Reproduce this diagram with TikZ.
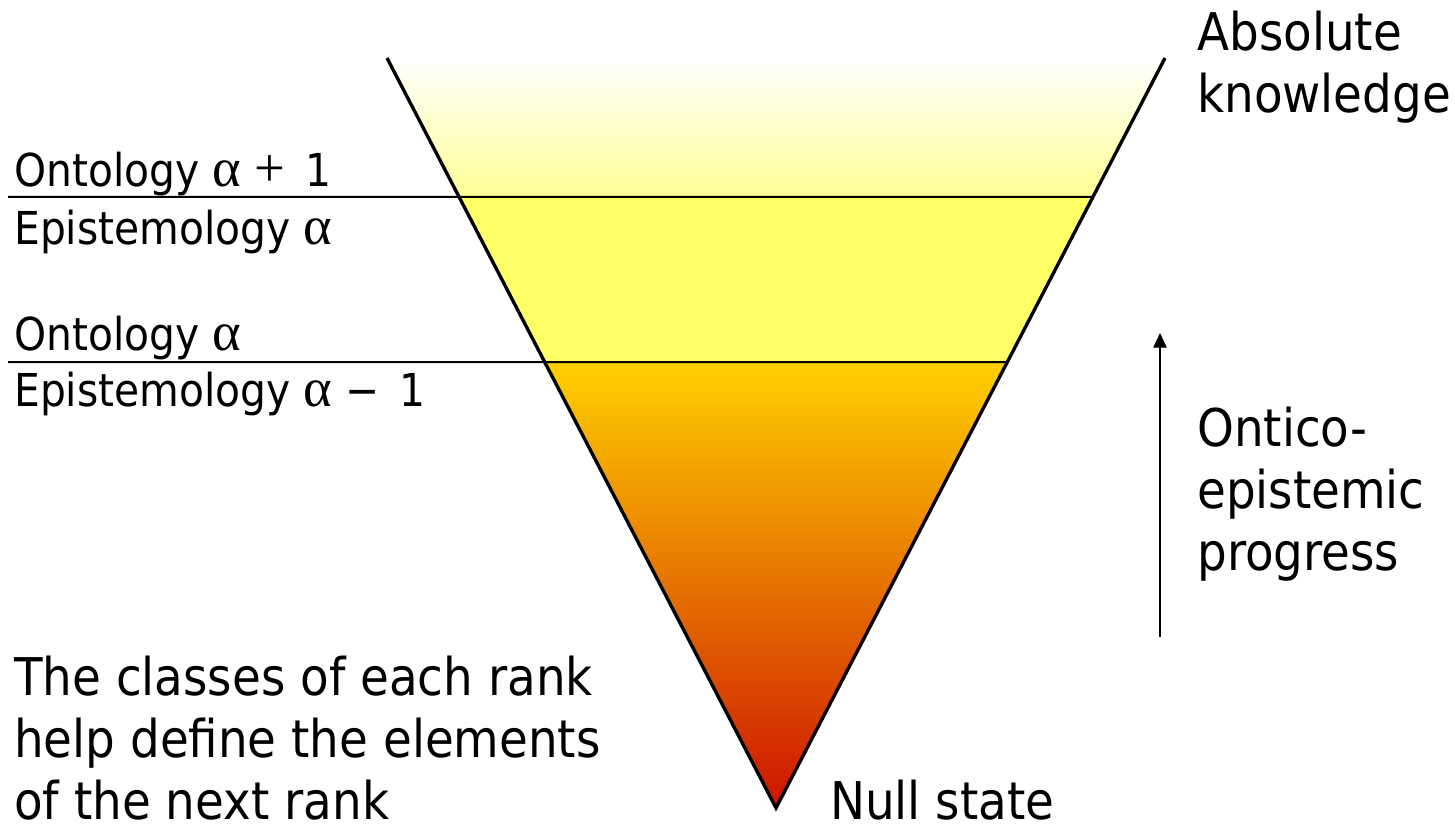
\documentclass[tikz,border=0pt]{standalone}
\usepackage{fontspec}
\setmainfont[FakeStretch=0.9]{DejaVu Sans}
\newfontfamily\grk{Liberation Serif}
\newcommand{\galpha}{{\grk\fontsize{41}{41}\selectfont α}}
\newcommand{\gop}[1]{{\grk\fontsize{41}{41}\selectfont #1}}
\usetikzlibrary{arrows.meta,calc}
\definecolor{paleyellow}{RGB}{255,255,150}
\definecolor{bandyellow}{RGB}{255,255,102}
\definecolor{topamber}{RGB}{255,208,0}
\definecolor{midamber}{RGB}{236,160,0}
\definecolor{apexred}{RGB}{204,20,0}

\begin{document}
\begin{tikzpicture}[
    x=0.75pt, y=-0.75pt,
    >={Triangle[length=11pt,width=10pt]},
    font=\fontsize{39}{46.5}\selectfont,
    lbl/.style={anchor=base west, inner sep=0pt, align=left},
    rank/.style={lbl, font=\fontsize{34}{40}\selectfont},
    edge/.style={draw=black, line width=2.5pt, line join=miter},
    rule/.style={draw=black, line width=1.5pt},
    arr/.style={->, line width=1pt}
]
\useasboundingbox (0,0) rectangle (1455,827);

% corners of the funnel
\coordinate (tl) at (387,58);
\coordinate (tr) at (1165,58);
\coordinate (apex) at (776,808);
\coordinate (l1) at ($(tl)!0.18533!(apex)$);
\coordinate (r1) at ($(tr)!0.18533!(apex)$);
\coordinate (l2) at ($(tl)!0.40533!(apex)$);
\coordinate (r2) at ($(tr)!0.40533!(apex)$);
\coordinate (w1) at (8,197);
\coordinate (w2) at (8,362);

% the three bands
\shade[top color=white, bottom color=paleyellow] (tl) -- (tr) -- (r1) -- (l1) -- cycle;
\fill[bandyellow] (l1) -- (r1) -- (r2) -- (l2) -- cycle;
\shade[top color=topamber, middle color=midamber, bottom color=apexred] (l2) -- (r2) -- (apex) -- cycle;

\draw[rule] (w1) -- (r1);
\draw[rule] (w2) -- (r2);
\draw[edge] (tl) -- (apex) -- (tr);

% labels on the rank lines
\node[rank] (ont1) at (14,187) {Ontology \galpha\ \gop{+}\, 1};
\node[rank] (epi1) at (14,244) {Epistemology \galpha};
\node[rank] (ont0) at (14,350) {Ontology \galpha};
\node[rank] (epi0) at (14,406) {Epistemology \galpha\ −\, 1};

% ends of the funnel
\node[lbl] (absk) at (1197,113) {Absolute\\knowledge};
\node[lbl] (null) at (830,819) {Null state};

% progress arrow
\coordinate (pfoot) at (1160,637);
\coordinate (phead) at (1160,333);
\draw[arr] (pfoot) -- (phead);
\node[lbl] (prog) at (1197,570) {Ontico-\\epistemic\\progress};

\node[lbl] (note) at (14,819) {The classes of each rank\\help define the elements\\of the next rank};

\end{tikzpicture}
\end{document}
